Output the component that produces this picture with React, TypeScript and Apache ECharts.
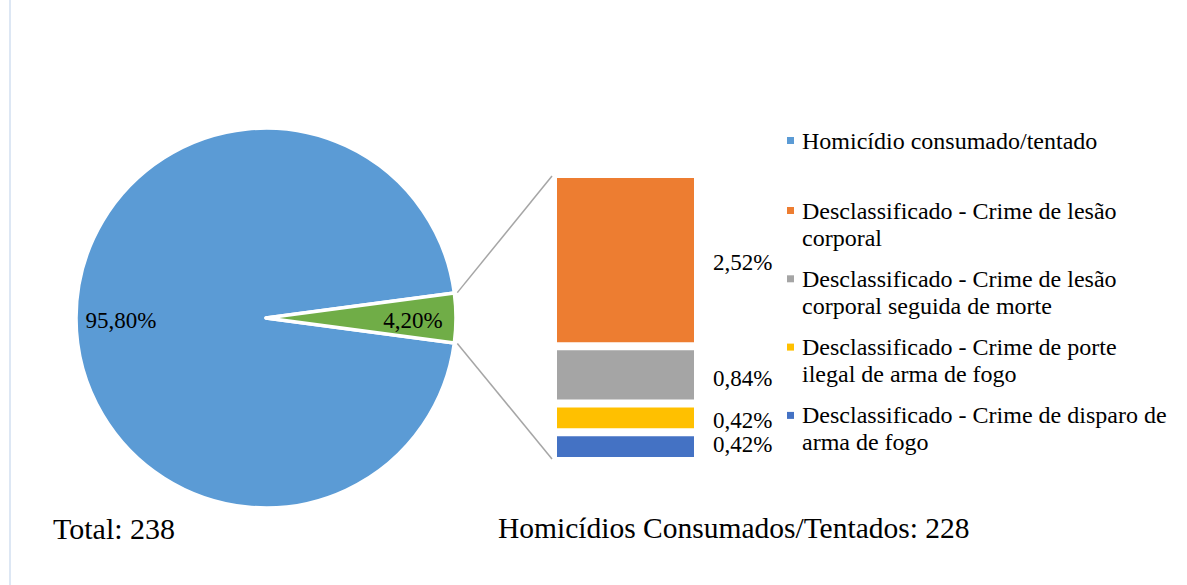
import React, { useEffect, useRef } from "react";
import * as echarts from "echarts";

// ---- data ----
const pieNames = ["Homicídio consumado/tentado", "Desclassificado"];
const pieCounts = [228, 10];
const pieColors = ["#5B9BD5", "#70AD47"];
const pieLabelShift = [[4, 2], [-2, 2]];

// sub-categories of the "Desclassificado" slice (bottom to top in the bar)
const barNames = [
  "Desclassificado - Crime de disparo de arma de fogo",
  "Desclassificado - Crime de porte ilegal de arma de fogo",
  "Desclassificado - Crime de lesão corporal seguida de morte",
  "Desclassificado - Crime de lesão corporal",
];
const barCounts = [1, 1, 2, 6];
const barColors = ["#4472C4", "#FFC000", "#A5A5A5", "#ED7D31"];
const barLabelShift = [-2, 3, 4, 2];

// legend (top to bottom) with wrapped labels
const legendLabels = [
  "Homicídio consumado/tentado",
  "Desclassificado - Crime de lesão\ncorporal",
  "Desclassificado - Crime de lesão\ncorporal seguida de morte",
  "Desclassificado - Crime de porte\nilegal de arma de fogo",
  "Desclassificado - Crime de disparo de\narma de fogo",
];
const legendColors = ["#5B9BD5", "#ED7D31", "#A5A5A5", "#FFC000", "#4472C4"];

const TOTAL = pieCounts.reduce((a, b) => a + b, 0);
const FONT = "Liberation Serif, Times New Roman, serif";

const pct = (v: number) => ((v / TOTAL) * 100).toFixed(2).replace(".", ",") + "%";

// ---- layout ----
const CX = 266;
const CY = 318;
const R = 190;
const G_LEFT = 553;
const G_TOP = 174;
const G_W = 145;
const G_H = 287;

export default function App() {
  const ref = useRef<HTMLDivElement>(null);

  useEffect(() => {
    if (!ref.current) return;
    const chart = echarts.init(ref.current, null, { renderer: "svg" });

    const otherCount = pieCounts[1];
    const half = ((otherCount / TOTAL) * 360) / 2;
    const halfRad = (half * Math.PI) / 180;
    const rr = R + 3;
    const p1 = [CX + rr * Math.cos(halfRad), CY - rr * Math.sin(halfRad)];
    const p2 = [CX + rr * Math.cos(halfRad), CY + rr * Math.sin(halfRad)];

    const pieData = pieNames.map((n, i) => ({
      name: n,
      value: pieCounts[i],
      itemStyle: { color: pieColors[i] },
    }));

    const legendY = [140.5];
    for (let i = 1; i < legendLabels.length; i++) {
      legendY.push(210.5 + (i - 1) * 68.3);
    }

    const legendGraphics: any[] = [];
    legendLabels.forEach((t, i) => {
      legendGraphics.push({
        type: "rect",
        shape: { x: 787, y: legendY[i] - 3.5, width: 7, height: 7 },
        style: { fill: legendColors[i] },
        silent: true,
      });
      legendGraphics.push({
        type: "text",
        x: 802,
        y: legendY[i] - 13.5,
        style: {
          text: t,
          fontFamily: FONT,
          fontSize: 24,
          fill: "#000",
          lineHeight: 27,
          verticalAlign: "top",
          align: "left",
        },
        silent: true,
      });
    });

    const option: any = {
      animation: false,
      backgroundColor: "#fff",
      grid: { left: G_LEFT, top: G_TOP, width: G_W, height: G_H, containLabel: false },
      xAxis: { type: "category", data: ["Desclassificado"], show: false },
      yAxis: {
        type: "value",
        min: 0,
        max: barCounts.reduce((a, b) => a + b, 0),
        show: false,
      },
      series: [
        {
          type: "pie",
          center: [CX, CY],
          radius: [0, R],
          startAngle: -half,
          clockwise: true,
          silent: true,
          data: pieData,
          itemStyle: { borderColor: "#fff", borderWidth: 3.5 },
          label: { show: false },
          labelLine: { show: false },
        },
        {
          type: "pie",
          center: [CX, CY],
          radius: [102, R],
          startAngle: -half,
          clockwise: true,
          silent: true,
          z: 5,
          data: pieData.map((d, i) => ({
            ...d,
            itemStyle: { color: "rgba(0,0,0,0)" },
            label: { offset: pieLabelShift[i] },
          })),
          itemStyle: { borderWidth: 0 },
          label: {
            show: true,
            position: "inside",
            formatter: (p: any) => pct(p.value),
            fontFamily: FONT,
            fontSize: 23,
            color: "#000",
          },
          labelLine: { show: false },
        },
        ...barNames.map((n, i) => ({
          type: "bar",
          name: n,
          stack: "desc",
          barWidth: "100%",
          silent: true,
          data: [barCounts[i]],
          itemStyle: { color: barColors[i], borderColor: "#fff", borderWidth: 4 },
          label: {
            show: true,
            position: "right",
            distance: 15,
            formatter: (p: any) => pct(p.value),
            fontFamily: FONT,
            fontSize: 23,
            color: "#000",
            offset: [0, barLabelShift[i]],
          },
        })),
      ],
      graphic: [
        {
          type: "line",
          shape: { x1: 10, y1: 0, x2: 10, y2: 585 },
          style: { stroke: "#dde7f4", lineWidth: 2 },
          silent: true,
        },
        {
          type: "line",
          shape: { x1: p1[0], y1: p1[1], x2: G_LEFT - 1, y2: G_TOP + 2 },
          style: { stroke: "#A6A6A6", lineWidth: 1.5 },
          silent: true,
        },
        {
          type: "line",
          shape: { x1: p2[0], y1: p2[1], x2: G_LEFT - 1, y2: G_TOP + G_H - 2 },
          style: { stroke: "#A6A6A6", lineWidth: 1.5 },
          silent: true,
        },
        ...legendGraphics,
        {
          type: "text",
          x: 53,
          y: 528,
          style: {
            text: `Total: ${TOTAL}`,
            fontFamily: FONT,
            fontSize: 30,
            fill: "#000",
            verticalAlign: "middle",
          },
          silent: true,
        },
        {
          type: "text",
          x: 498,
          y: 528,
          style: {
            text: `Homicídios Consumados/Tentados: ${pieCounts[0]}`,
            fontFamily: FONT,
            fontSize: 29.5,
            fill: "#000",
            verticalAlign: "middle",
          },
          silent: true,
        },
      ],
    };

    chart.setOption(option);
    return () => chart.dispose();
  }, []);

  return (
    <div
      ref={ref}
      style={{ position: "absolute", left: 0, top: 0, width: 1187, height: 585 }}
    />
  );
}
